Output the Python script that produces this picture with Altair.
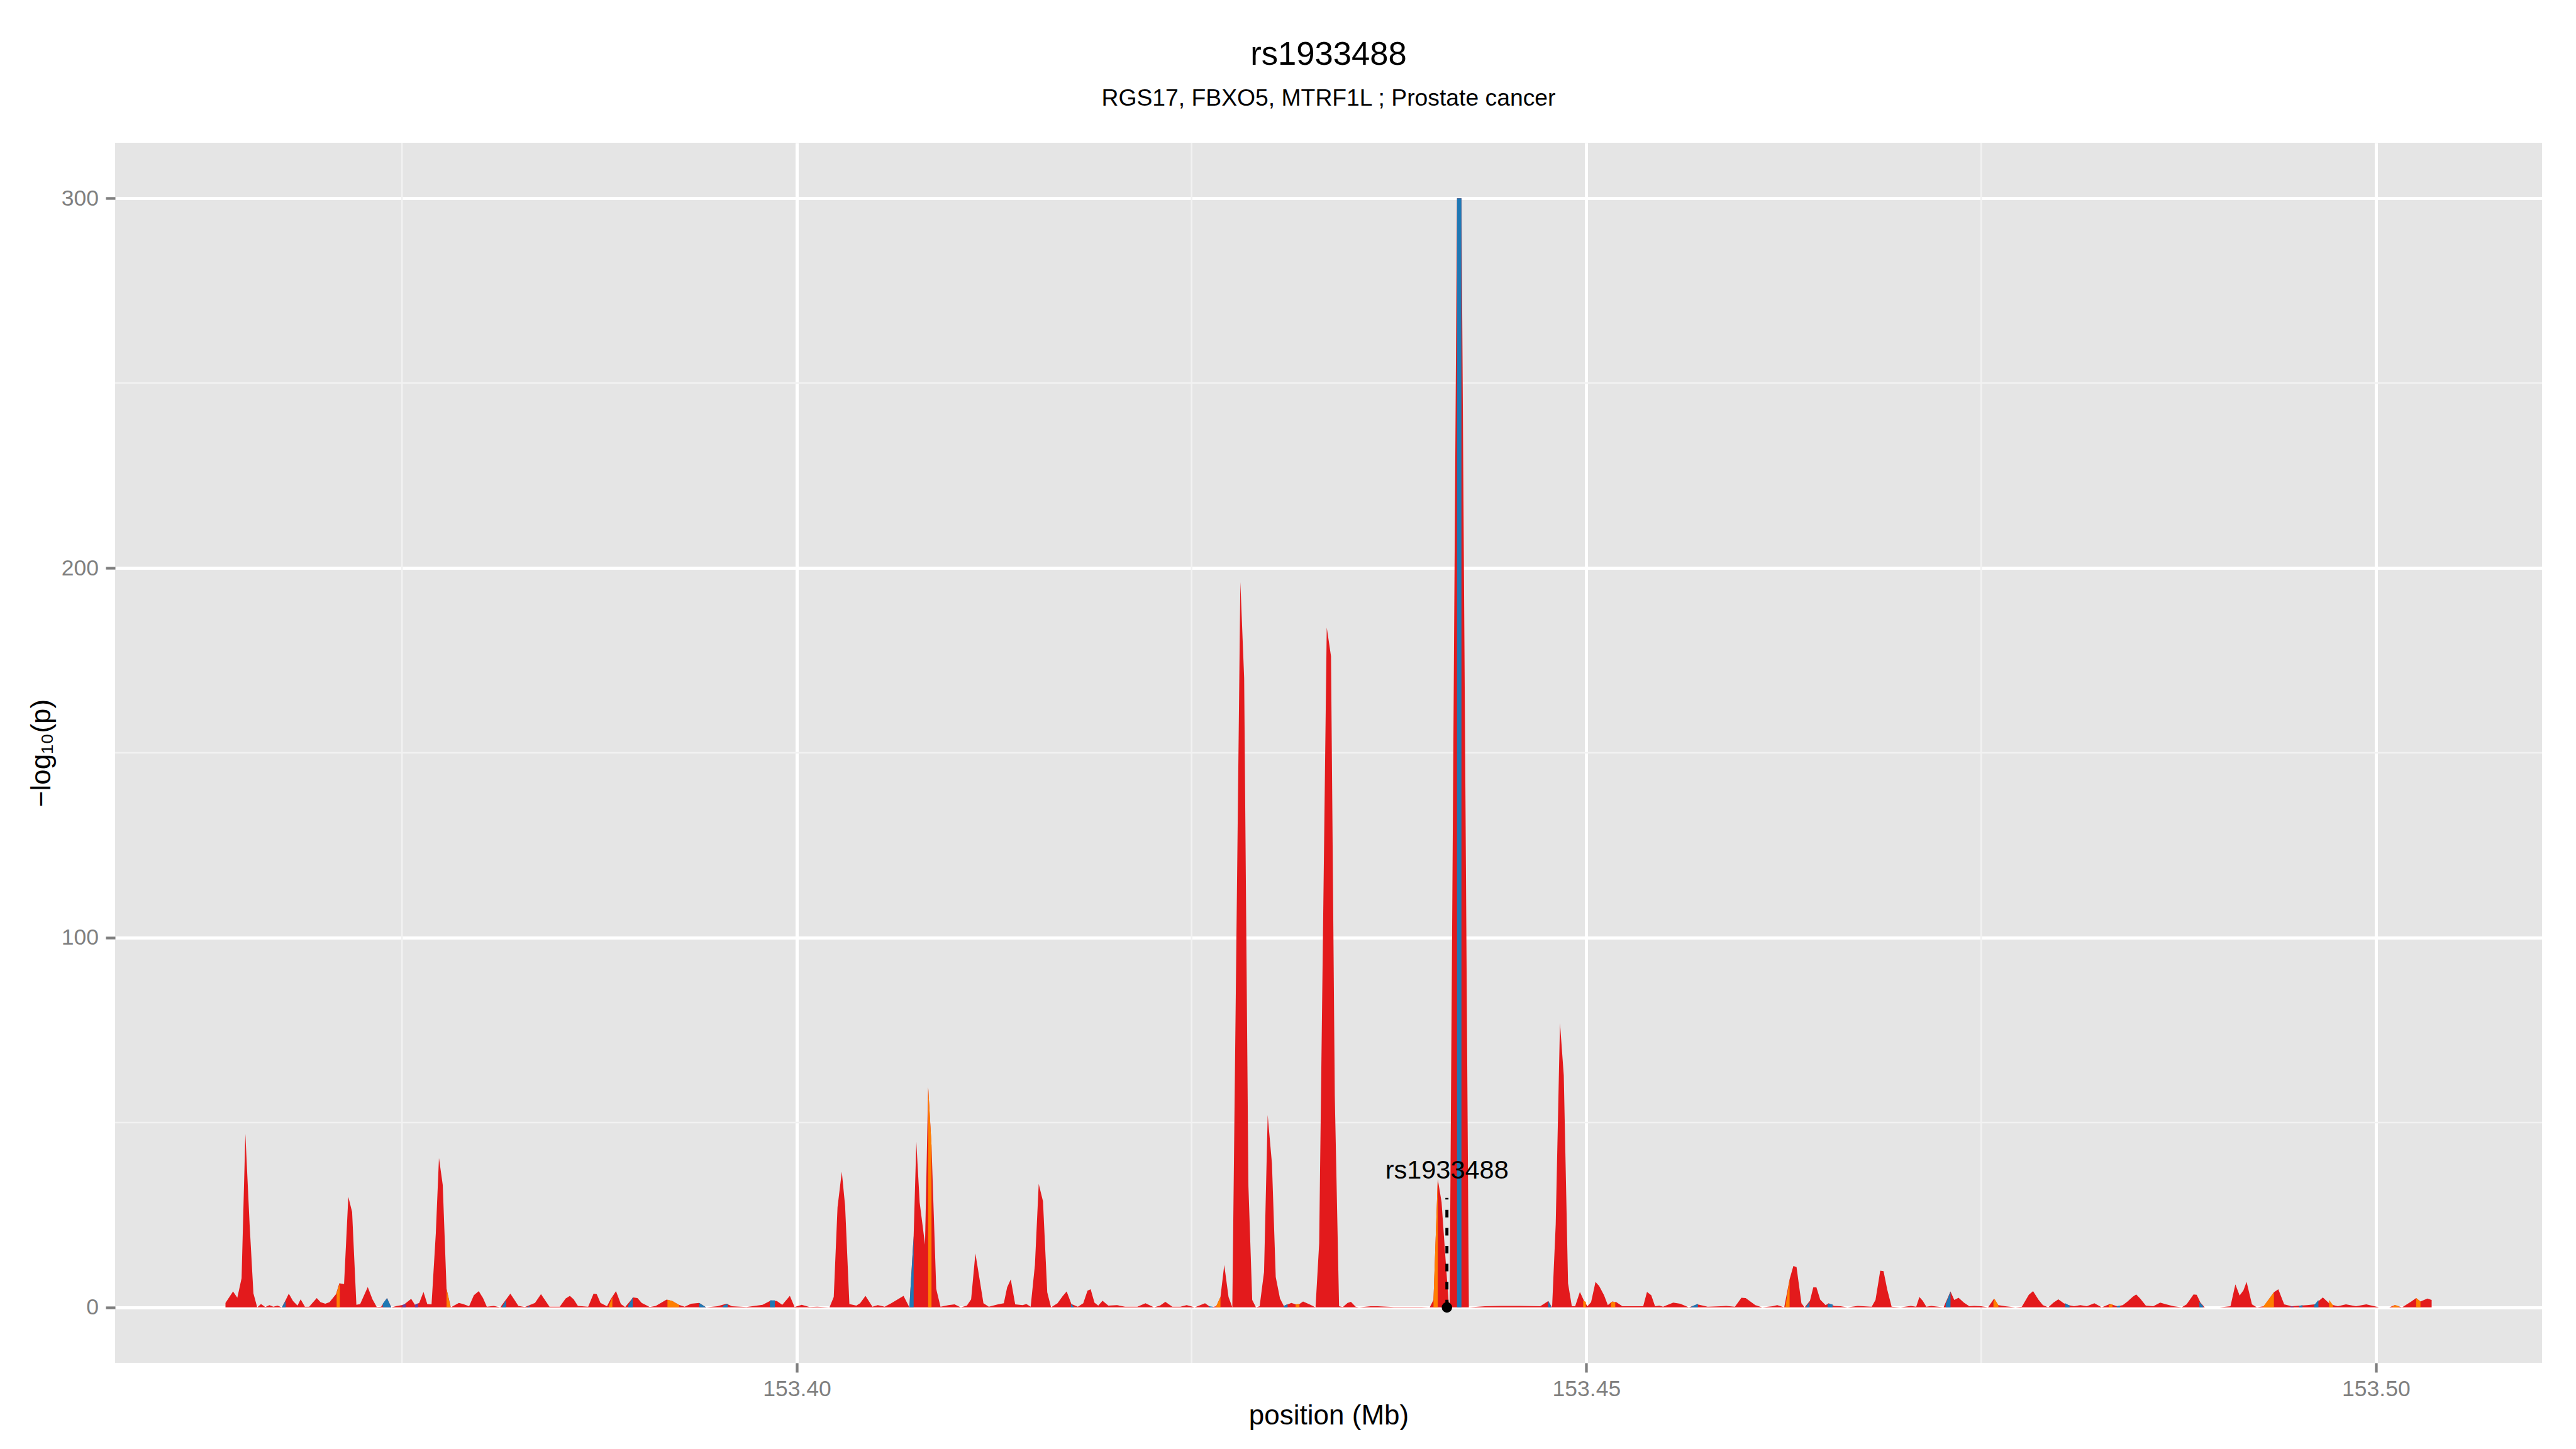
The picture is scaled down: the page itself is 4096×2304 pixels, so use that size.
import altair as alt
import pandas as pd

FONT = "Liberation Sans"

title_text = "rs1933488"
subtitle_text = "RGS17, FBXO5, MTRF1L ; Prostate cancer"
x_title = "position (Mb)"
y_title = "\u2212log\u2081\u2080(p)"

# ---- main association track: position (Mb) and -log10(p) ----
pos_mb = [
    153.36382, 153.36430, 153.36457, 153.36484, 153.36508, 153.36535, 153.36559, 153.36583, 153.36607, 153.36634,
    153.36661, 153.36685, 153.36712, 153.36739, 153.36760, 153.36783, 153.36810, 153.36838, 153.36858, 153.36885,
    153.36912, 153.36960, 153.36984, 153.37014, 153.37041, 153.37082, 153.37103, 153.37133, 153.37160, 153.37184,
    153.37211, 153.37235, 153.37283, 153.37313, 153.37340, 153.37368, 153.37405, 153.37432, 153.37469, 153.37510,
    153.37558, 153.37582, 153.37609, 153.37636, 153.37660, 153.37687, 153.37714, 153.37734, 153.37758, 153.37782,
    153.37809, 153.37860, 153.37887, 153.37925, 153.37955, 153.37986, 153.38013, 153.38037, 153.38081, 153.38122,
    153.38186, 153.38210, 153.38237, 153.38278, 153.38342, 153.38380, 153.38407, 153.38434, 153.38499, 153.38536,
    153.38563, 153.38587, 153.38614, 153.38679, 153.38713, 153.38733, 153.38757, 153.38798, 153.38821, 153.38855,
    153.38886, 153.38913, 153.38964, 153.38991, 153.39018, 153.39069, 153.39107, 153.39175, 153.39212, 153.39253,
    153.39290, 153.39331, 153.39382, 153.39426, 153.39497, 153.39555, 153.39589, 153.39681, 153.39783, 153.39837,
    153.39874, 153.39908, 153.39956, 153.39986, 153.40031, 153.40081, 153.40129,
    153.40207, 153.40234, 153.40258, 153.40285, 153.40306, 153.40333, 153.40377, 153.40401, 153.40435, 153.40479,
    153.40513, 153.40557, 153.40598, 153.40676, 153.40713, 153.40740, 153.40757, 153.40778, 153.40812, 153.40832,
    153.40853, 153.40883, 153.40910, 153.40961, 153.40999, 153.41039, 153.41077, 153.41104, 153.41131, 153.41155,
    153.41182, 153.41216, 153.41274, 153.41311, 153.41332, 153.41355, 153.41383, 153.41430, 153.41454, 153.41481,
    153.41508, 153.41532, 153.41559, 153.41586, 153.41610, 153.41651, 153.41685, 153.41709, 153.41739, 153.41780,
    153.41814, 153.41841, 153.41861, 153.41885, 153.41909, 153.41936, 153.41973, 153.42028, 153.42079, 153.42157,
    153.42208, 153.42262, 153.42300, 153.42334, 153.42378, 153.42429, 153.42469, 153.42520, 153.42585,
    153.42622, 153.42656, 153.42683, 153.42707, 153.42734, 153.42758, 153.42809, 153.42833, 153.42860, 153.42884,
    153.42908, 153.42931, 153.42959, 153.42982, 153.43009, 153.43033, 153.43060, 153.43084, 153.43132, 153.43159,
    153.43183, 153.43206, 153.43247, 153.43285, 153.43308, 153.43356, 153.43383, 153.43407, 153.43434, 153.43458,
    153.43488, 153.43509, 153.43539, 153.43560, 153.43634, 153.43679, 153.43781, 153.43957,
    153.44008, 153.44032, 153.44059, 153.44083, 153.44110, 153.44127, 153.44134, 153.44181, 153.44209, 153.44256,
    153.44358, 153.44456, 153.44579, 153.44708, 153.44759, 153.44783, 153.44806, 153.44833, 153.44857, 153.44884,
    153.44908, 153.44929, 153.44959, 153.44986, 153.45007, 153.45030, 153.45058, 153.45081, 153.45112, 153.45136,
    153.45163, 153.45190, 153.45228, 153.45268, 153.45360, 153.45384, 153.45411, 153.45435, 153.45462,
    153.45486, 153.45550, 153.45594, 153.45649, 153.45703, 153.45768, 153.45852, 153.45886, 153.45941, 153.45982,
    153.46009, 153.46070, 153.46114, 153.46179, 153.46209, 153.46253, 153.46287, 153.46311, 153.46331, 153.46362,
    153.46382, 153.46416, 153.46437, 153.46457, 153.46481, 153.46515, 153.46535, 153.46569, 153.46610, 153.46654,
    153.46719, 153.46807, 153.46831, 153.46861, 153.46882, 153.46905, 153.46933, 153.46990, 153.47055, 153.47089,
    153.47109, 153.47130, 153.47153, 153.47184, 153.47262, 153.47306, 153.47330, 153.47357, 153.47391, 153.47425,
    153.47456, 153.47500, 153.47544, 153.47581, 153.47609, 153.47653, 153.47717, 153.47758, 153.47802, 153.47829,
    153.47863,
    153.47891, 153.47925, 153.47958, 153.47989, 153.48023, 153.48054, 153.48088, 153.48128, 153.48169, 153.48217,
    153.48264, 153.48315, 153.48363, 153.48397, 153.48427, 153.48461, 153.48482, 153.48509, 153.48543, 153.48590,
    153.48634, 153.48672, 153.48719, 153.48770, 153.48801, 153.48845, 153.48865, 153.48889, 153.48916, 153.49011,
    153.49079, 153.49110, 153.49137, 153.49161, 153.49181, 153.49215, 153.49246, 153.49290, 153.49320, 153.49354,
    153.49382, 153.49419, 153.49467, 153.49517, 153.49565, 153.49613, 153.49664, 153.49711, 153.49759, 153.49810,
    153.49874, 153.49939, 153.50020, 153.50085, 153.50119, 153.50166, 153.50224, 153.50255, 153.50282, 153.50326,
    153.50353,
]
neglog10p = [
    1.2, 4.3, 2.6, 7.9, 46.9, 22.4, 3.8, 0, 0.9, 0.1,
    0.6, 0.2, 0.5, 0, 1.7, 3.7, 1.7, 0.5, 2.2, 0.2,
    0.2, 2.5, 1.4, 1.0, 1.4, 3.6, 6.5, 6.3, 29.9, 25.8,
    0.7, 0.9, 5.5, 2.2, 0.1, 0.2, 2.5, 0, 0.4, 0.7,
    2.3, 0.7, 1.2, 4.2, 0.9, 0.8, 20.0, 40.4, 33.1, 5.0,
    0, 1.2, 0.9, 0.3, 3.3, 4.4, 2.5, 0.2, 0.4, 0,
    3.7, 2.2, 0.4, 0.1, 1.2, 3.6, 1.9, 0.2, 0.2, 2.4,
    3.1, 2.2, 0.4, 0.2, 3.7, 3.6, 1.2, 0.3, 2.2, 4.4,
    0.9, 0.1, 2.7, 2.5, 1.2, 0.1, 0.4, 2.1, 1.7, 0.7,
    0.2, 1.0, 1.2, 0, 0.3, 1.0, 0.3, 0.1, 0.7, 1.9,
    1.7, 0.7, 3.1, 0.1, 0.7, 0.1, 0.2,
    0, 2.8, 27.1, 36.7, 27.4, 0.9, 0.5, 1.1, 3.1, 0.2,
    0.6, 0.2, 1.1, 3.1, 0, 19.3, 44.7, 28.4, 17.0, 59.6,
    43.9, 5.0, 0.2, 0.6, 0.8, 0, 0.5, 2.2, 14.6, 8.3,
    1.1, 0.2, 0.8, 1.1, 5.4, 7.6, 0.8, 0.6, 0.9, 0.2,
    11.5, 33.4, 28.7, 4.1, 0, 1.1, 3.1, 4.3, 0.9, 0.2,
    1.1, 4.5, 4.9, 1.3, 0.5, 1.8, 0.5, 0.6, 0.2, 0.2,
    1.1, 0, 0.5, 1.5, 0.2, 0.2, 0.6, 0, 1.1,
    0, 0.3, 2.8, 11.5, 2.8, 0, 196.2, 170.1, 32.8, 2.0,
    0, 0.3, 9.6, 52.0, 38.9, 8.2, 2.4, 0.4, 1.2, 0.8,
    0.9, 1.6, 0.8, 0, 17.3, 183.9, 176.1, 57.2, 0.3, 0.1,
    1.2, 1.5, 0.2, 0, 0.3, 0.3, 0.1, 0.1,
    0, 2.0, 34.7, 28.5, 12.0, 2.0, 0, 300, 300, 0,
    0.3, 0.4, 0.4, 0.3, 1.7, 0, 22.5, 76.9, 62.8, 6.5,
    0.3, 0.3, 4.2, 1.7, 0.3, 1.4, 6.9, 5.8, 3.3, 0.6,
    1.6, 1.4, 0.3, 0.3, 0.3, 4.2, 3.3, 0.3, 0.5,
    0.2, 1.3, 1.0, 0, 0.8, 0.2, 0.3, 0.4, 0.2, 2.6,
    2.5, 0.6, 0, 0.3, 0.6, 0, 7.6, 11.2, 10.9, 1.1,
    0, 1.8, 5.4, 5.4, 2.1, 0.6, 1.1, 0.4, 0.3, 0,
    0.4, 0.2, 2.0, 9.9, 9.8, 4.9, 0.2, 0, 0.4, 0.2,
    2.8, 1.8, 0.2, 0.4, 0, 4.3, 2.0, 2.6, 1.3, 0.3,
    0.4, 0.3, 0, 2.3, 0.6, 0.3, 0, 0.2, 3.4, 4.4,
    2.1,
    0.6, 0, 1.3, 2.2, 1.1, 0.6, 0.3, 0.6, 0.3, 1.1,
    0, 0.9, 0.3, 0.6, 1.6, 2.9, 3.5, 2.3, 0.5, 0.3,
    1.3, 0.8, 0.3, 0, 0.8, 3.5, 3.4, 1.3, 0, 0,
    0.3, 6.2, 3.2, 4.6, 6.9, 0.8, 0, 0.3, 2.1, 4.1,
    4.9, 0.8, 0.3, 0.5, 0.6, 0.8, 2.7, 0.8, 0.3, 0.8,
    0.3, 0.8, 0, 0, 0.6, 0, 1.6, 2.5, 1.6, 2.4,
    2.0,
]
assert len(pos_mb) == len(neglog10p)

# ---- LD-coloured slivers: segment id, position, value; class per segment ----
seg_class = (["blue"] * 23) + (["orange"] * 17) + (["purple"] * 3)
ld_seg = [
    0, 0, 1, 1, 1, 2, 2, 3, 3, 4, 4, 5, 5, 6, 6, 7, 7, 8, 8, 9, 9, 10, 10, 11, 11,
    12, 12, 13, 13, 14, 14, 15, 15, 16, 16, 17, 17, 18, 18, 19, 19, 20, 20, 21, 21, 22, 22,
    23, 23, 24, 24, 25, 25, 26, 26, 26, 27, 27, 28, 28, 29, 29, 30, 30, 31, 31, 32, 32,
    33, 33, 34, 34, 34, 35, 35, 36, 36, 36, 37, 37, 38, 38, 38, 39, 39,
    40, 40, 41, 41, 42, 42,
]
ld_pos = [
    153.36739, 153.36763, 153.37378, 153.37405, 153.37432, 153.38132, 153.38159, 153.38288, 153.38308,
    153.38933, 153.38961, 153.39382, 153.39426, 153.39531, 153.39562, 153.39830, 153.39861,
    153.40713, 153.40740, 153.41736, 153.41756, 153.42612, 153.42636, 153.43084, 153.43108,
    153.44181, 153.44209, 153.44759, 153.44776, 153.45656, 153.45706, 153.46389, 153.46413,
    153.46528, 153.46559, 153.47276, 153.47306, 153.48033, 153.48060, 153.48359, 153.48380,
    153.48882, 153.48906, 153.49514, 153.49535, 153.49609, 153.49636,
    153.37086, 153.37106, 153.37782, 153.37806, 153.38811, 153.38832, 153.39181, 153.39212, 153.39256,
    153.40832, 153.40853, 153.42656, 153.42683, 153.43159, 153.43183, 153.44032, 153.44059,
    153.44980, 153.44997, 153.45156, 153.45183,
    153.46260, 153.46287, 153.47578, 153.47585, 153.47609, 153.48308, 153.48332,
    153.49283, 153.49320, 153.49354, 153.49704, 153.49728, 153.50105, 153.50126, 153.50146,
    153.50255, 153.50282,
    153.37503, 153.37524, 153.37582, 153.37602, 153.49460, 153.49480,
]
ld_val = [
    0, 1.8, 1.0, 2.5, 0, 0, 2.0, 0, 0.4, 0.5, 2.7, 1.2, 0, 0.4, 1.0, 1.9, 1.9,
    0, 19.3, 1.0, 0, 0.3, 0.2, 0.4, 0.9,
    300, 300, 1.7, 0.3, 0, 1.0, 0, 1.5, 1.0, 0.8, 1.0, 4.3, 1.1, 0.5, 0.3, 0.5,
    1.5, 0.3, 0.4, 0.6, 0.6, 2.0,
    4.0, 6.5, 5.0, 0.3, 0.5, 2.8, 2.1, 1.7, 0.6,
    59.6, 43.9, 0.3, 2.8, 0.8, 0.9, 2.0, 34.7,
    1.8, 1.5, 1.5, 1.5,
    0, 7.6, 1.5, 2.3, 0.6, 0.6, 0.9,
    0, 2.1, 4.1, 2.0, 0.6, 0.3, 0.6, 0.3,
    2.5, 1.6,
    0.7, 0.9, 0.7, 1.1, 0.3, 0.2,
]
assert len(ld_seg) == len(ld_pos) == len(ld_val)

ld_classes = ["blue", "orange", "purple"]
ld_colors = ["#1F78B4", "#FF7F00", "#6A3D9A"]

# ---- axes / grid ----
x_major = [153.40, 153.45, 153.50]
x_minor = [153.375, 153.425, 153.475]
y_major = [0, 100, 200, 300]
y_minor = [50, 150, 250]
x_domain = [153.35683, 153.51052]
y_domain = [-15, 315]

# ---- highlighted SNP ----
snp_name = ["rs1933488"]
snp_pos = [153.44117]
snp_base = [0]
snp_line_top = [29.6]
snp_label_y = [34.8]

W, H = 3859, 1940

main_df = pd.DataFrame({"pos": pos_mb, "val": neglog10p})
ld_df = pd.DataFrame({
    "seg": ld_seg, "pos": ld_pos, "val": ld_val,
    "cls": [seg_class[s] for s in ld_seg],
})
snp_df = pd.DataFrame({
    "pos": snp_pos, "val": snp_base, "top": snp_line_top,
    "ly": snp_label_y, "name": snp_name,
})

xs = alt.Scale(domain=x_domain, nice=False, zero=False)
ys = alt.Scale(domain=y_domain, nice=False, zero=False)

x_axis = alt.Axis(values=x_major, format=".2f", title=x_title)
y_axis = alt.Axis(values=y_major, format="d", title=y_title)

x_enc = alt.X("pos:Q", scale=xs, axis=x_axis)
y_enc = alt.Y("val:Q", scale=ys, axis=y_axis, stack=False)

minor_x = alt.Chart(pd.DataFrame({"pos": x_minor})).mark_rule(
    color="#F2F2F2", strokeWidth=2.5
).encode(x=x_enc)

minor_y = alt.Chart(pd.DataFrame({"val": y_minor})).mark_rule(
    color="#F2F2F2", strokeWidth=2.5
).encode(y=y_enc)

main_area = alt.Chart(main_df).mark_area(
    color="#E31A1C", interpolate="linear"
).encode(x=x_enc, y=y_enc, y2=alt.datum(0))

ld_area = alt.Chart(ld_df).mark_area(interpolate="linear").encode(
    x=x_enc,
    y=y_enc,
    y2=alt.datum(0),
    color=alt.Color("cls:N", scale=alt.Scale(domain=ld_classes, range=ld_colors), legend=None),
    detail="seg:N",
)

snp_rule = alt.Chart(snp_df).mark_rule(
    color="black", strokeWidth=4.9, strokeDash=[12, 16.6], strokeCap="butt"
).encode(x=x_enc, y=y_enc, y2=alt.Y2("top:Q"))

snp_point = alt.Chart(snp_df).mark_circle(
    color="black", size=277, opacity=1
).encode(x=x_enc, y=y_enc)

snp_text = alt.Chart(snp_df).mark_text(
    font=FONT, fontSize=41.5, color="black", align="center", baseline="alphabetic"
).encode(x=x_enc, y=alt.Y("ly:Q", scale=ys, axis=y_axis), text="name:N")

chart = alt.layer(
    minor_x, minor_y, main_area, ld_area, snp_rule, snp_point, snp_text
).properties(
    width=W,
    height=H,
    title=alt.TitleParams(
        text=title_text,
        subtitle=subtitle_text,
        anchor="middle",
        frame="group",
        font=FONT,
        fontSize=52.6,
        fontWeight="normal",
        color="black",
        subtitleFont=FONT,
        subtitleFontSize=37.3,
        subtitleColor="black",
        subtitlePadding=26,
        offset=50,
    ),
    padding={"left": 175, "top": 219, "right": 40, "bottom": 130},
    autosize=alt.AutoSizeParams(type="none"),
    background="white",
).configure_view(
    fill="#E5E5E5", strokeWidth=0
).configure_axis(
    domain=False,
    grid=True,
    gridColor="white",
    gridWidth=5,
    tickColor="#7F7F7F",
    tickWidth=4.3,
    tickSize=15,
    labelColor="#7F7F7F",
    labelFont=FONT,
    labelFontSize=35.5,
    titleFont=FONT,
    titleFontSize=44,
    titleFontWeight="normal",
    titleColor="black",
).configure_axisX(
    labelPadding=9,
    titleY=97.7,
    titleBaseline="alphabetic",
).configure_axisY(
    labelPadding=11.4,
    titleX=-117,
    titleY=H / 2,
    titleAngle=270,
    titleAlign="center",
    titleBaseline="middle",
)

chart.save("out.html", embed_options={"renderer": "svg", "actions": False})
